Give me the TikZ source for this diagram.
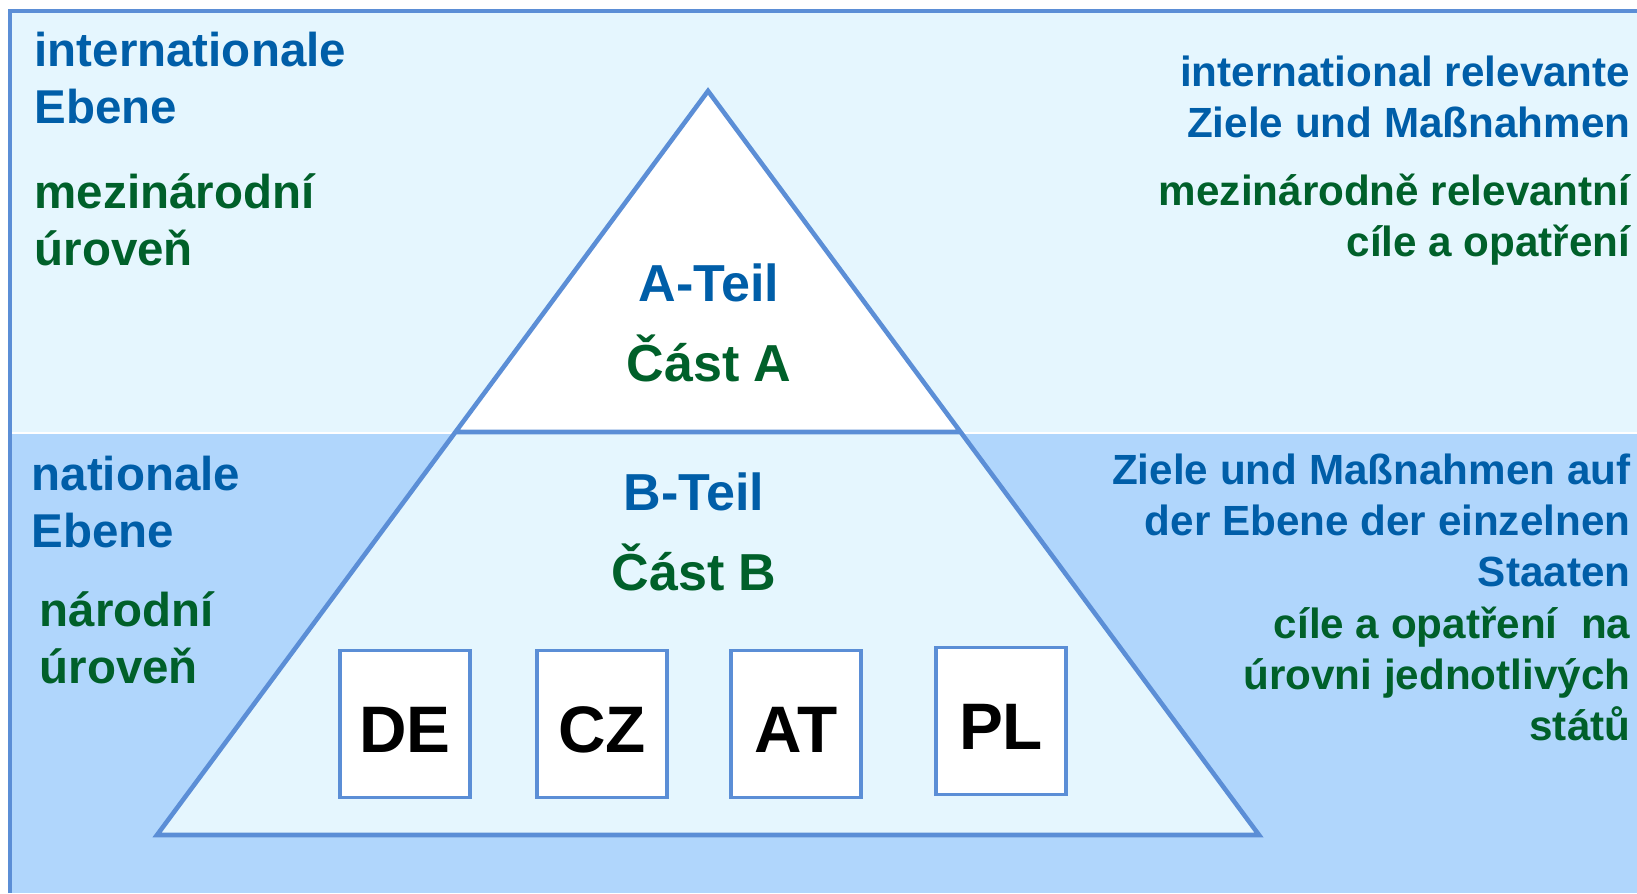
\documentclass[tikz,border=0pt]{standalone}
\usepackage{fontspec}
\setmainfont{Liberation Sans}
\usetikzlibrary{calc}

\definecolor{ebeneblue}{HTML}{005EA8}
\definecolor{ebenegreen}{HTML}{00602A}
\definecolor{framelight}{HTML}{E5F6FE}
\definecolor{framedark}{HTML}{B0D6FC}
\definecolor{edgeblue}{HTML}{5B8ED6}

\tikzset{
  level/.style={font=\fontsize{13.5}{16.2}\selectfont\bfseries,
    inner sep=0pt, align=left, anchor=base west},
  goals/.style={font=\fontsize{12}{14.5}\selectfont\bfseries,
    inner sep=0pt, align=right, anchor=base east},
  part/.style={font=\fontsize{14.8}{22.7}\selectfont\bfseries,
    inner sep=0pt, align=center, anchor=base},
  country/.style={rectangle, draw=edgeblue, line width=1.1pt, fill=white,
    minimum width=1.30cm, minimum height=1.47cm,
    text height=0.57cm, text depth=0pt,
    font=\fontsize{18.7}{22}\selectfont\bfseries}
}

\begin{document}
\begin{tikzpicture}[x=0.01cm,y=0.01cm]
  \useasboundingbox (0,0) rectangle (1637,893);

  % Levels
  \fill[white] (0,0) rectangle (1637,893);
  \fill[framelight] (10,461) rectangle (1637,882);
  \fill[framedark] (10,0) rectangle (1637,459);
  \draw[edgeblue, line width=1pt] (10,0) -- (10,882) -- (1637,882);

  % Pyramid
  \path
    (708,802) coordinate (apex)
    (157,58)  coordinate (baseL)
    (1259,58) coordinate (baseR)
    ($(apex)!0.4583!(baseL)$) coordinate (midL)
    ($(apex)!0.4583!(baseR)$) coordinate (midR);
  \fill[framelight] (midL) -- (midR) -- (baseR) -- (baseL) -- cycle;
  \fill[white] (apex) -- (midR) -- (midL) -- cycle;
  \draw[edgeblue, line width=1.3pt]
    (apex) -- (baseR) -- (baseL) -- cycle
    (midL) -- (midR);

  % Parts (base = last line)
  \node[part] (partA) at (709,512)
    {\textcolor{ebeneblue}{A-Teil}\\\textcolor{ebenegreen}{Část A}};
  \node[part] (partB) at (694,303)
    {\textcolor{ebeneblue}{B-Teil}\\\textcolor{ebenegreen}{Část B}};

  % Countries
  \foreach \name/\x/\y in {DE/405/169, CZ/602/169, AT/796/169, PL/1001/172}
    \node[country] (box\name) at (\x,\y) {\name};

  % Left: levels
  \node[level, text=ebeneblue]  (intl)   at (34,770) {internationale\\Ebene};
  \node[level, text=ebenegreen] (intlcz) at (34,628) {mezinárodní\\úroveň};
  \node[level, text=ebeneblue]  (natl)   at (31,346) {nationale\\Ebene};
  \node[level, text=ebenegreen] (natlcz) at (39,210) {národní\\úroveň};

  % Right: goals
  \node[goals, text=ebeneblue]  (goalsA)   at (1631,756)
    {international relevante\\Ziele und Maßnahmen};
  \node[goals, text=ebenegreen] (goalsAcz) at (1631,637)
    {mezinárodně relevantní\\cíle a opatření};
  \node[goals, text=ebeneblue]  (goalsB)   at (1631,307)
    {Ziele und Maßnahmen auf\\der Ebene der einzelnen\\Staaten};
  \node[goals, text=ebenegreen] (goalsBcz) at (1631,153)
    {cíle a opatření~ na\\úrovni jednotlivých\\států};
\end{tikzpicture}
\end{document}
